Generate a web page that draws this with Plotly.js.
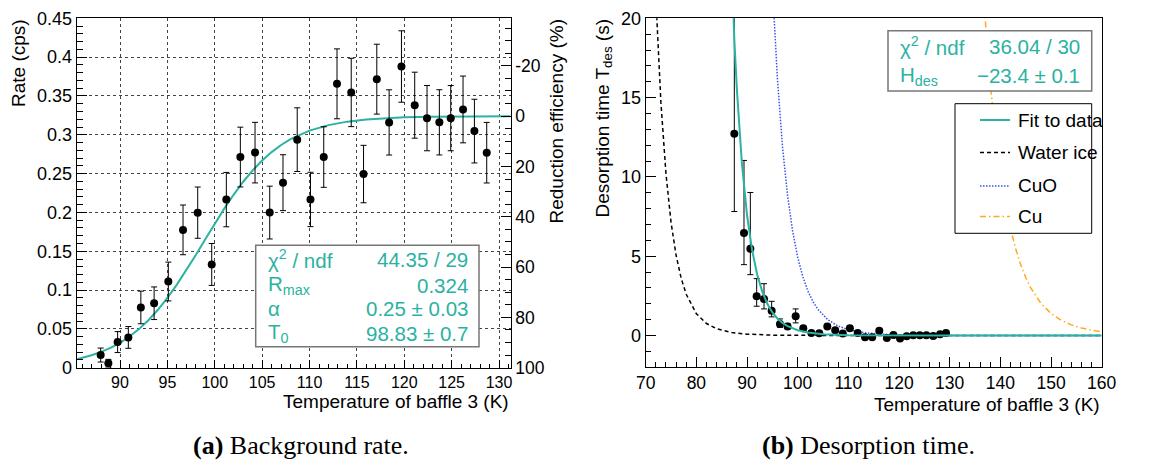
<!DOCTYPE html>
<html>
<head>
<meta charset="utf-8">
<script src="https://cdn.plot.ly/plotly-3.0.1.min.js"></script>
<style>html,body{margin:0;padding:0;background:#fff;}#chart{width:1149px;height:461px;}</style>
</head>
<body>
<div id="chart"></div>
<script>
// ---------- (a) Background rate ----------
const rateT = [87.96, 88.77, 89.75, 90.88, 92.2, 93.6, 95.1, 96.65, 98.2, 99.68, 101.22, 102.7, 104.25, 105.8, 107.2, 108.7, 110.1, 111.5, 112.9, 114.4, 115.7, 117.1, 118.4, 119.7, 121.1, 122.4, 123.7, 124.9, 126.2, 127.4, 128.7];
const rateVal = [0.0163, 0.0057, 0.033, 0.039, 0.0776, 0.083, 0.111, 0.1775, 0.1997, 0.133, 0.2165, 0.2713, 0.277, 0.1998, 0.2383, 0.2937, 0.2167, 0.2713, 0.3656, 0.3545, 0.2494, 0.3716, 0.3159, 0.3879, 0.3381, 0.3214, 0.316, 0.3214, 0.3326, 0.3047, 0.2769];
const rateErr = [0.009, 0.005, 0.0135, 0.014, 0.021, 0.021, 0.025, 0.032, 0.033, 0.027, 0.035, 0.0385, 0.039, 0.034, 0.036, 0.041, 0.035, 0.039, 0.045, 0.044, 0.037, 0.045, 0.042, 0.046, 0.0425, 0.042, 0.042, 0.042, 0.043, 0.041, 0.039];
const tempErr = 0.7;
const rateFitT = [85.43, 87, 88, 89, 90, 91, 92, 93, 94, 95, 96, 97, 98, 99, 100, 101, 102, 103, 104, 105, 106, 107, 108, 110, 112, 114, 116, 118, 120, 123, 126, 129, 131.23];
const rateFitVal = [0.011, 0.016, 0.0203, 0.0256, 0.0321, 0.0401, 0.0497, 0.0612, 0.0746, 0.0899, 0.107, 0.1256, 0.1452, 0.1654, 0.1855, 0.2049, 0.223, 0.2395, 0.2542, 0.2669, 0.2777, 0.2868, 0.2943, 0.3053, 0.3124, 0.3169, 0.3196, 0.3213, 0.3224, 0.3232, 0.3236, 0.3238, 0.3239];
const effTicks = [-20, 0, 20, 40, 60, 80, 100];
const effTickText = ["-20", "0", "20", "40", "60", "80", "100"];
const statA = [["χ<sup>2</sup> / ndf", "44.35 / 29"], ["R<sub>max</sub>", "0.324"], ["α", "0.25 ± 0.03"], ["T<sub>0</sub>", "98.83 ± 0.7"]];

// ---------- (b) Desorption time ----------
const desT = [87.49, 89.4, 90.65, 91.9, 93.35, 94.86, 96.5, 98.0, 99.6, 101.1, 102.7, 104.26, 105.84, 107.4, 108.9, 110.3, 111.84, 113.28, 114.7, 116.1, 117.6, 118.9, 120.2, 121.5, 122.8, 124.1, 125.4, 126.76, 128.1, 129.27];
const desVal = [12.72, 6.47, 5.48, 2.48, 2.31, 1.57, 0.73, 0.57, 1.22, 0.46, 0.17, 0.15, 0.57, 0.33, 0.13, 0.46, 0.17, -0.10, -0.10, 0.30, -0.15, 0.04, -0.19, -0.04, 0.02, 0.02, 0.02, -0.02, 0.08, 0.17];
const desErrUp = [9.0, 4.57, 3.54, 1.11, 0.96, 0.59, 0.32, 0.2, 0.46, 0.15, 0.1, 0.1, 0.15, 0.12, 0.1, 0.15, 0.1, 0.08, 0.08, 0.1, 0.08, 0.06, 0.06, 0.05, 0.05, 0.05, 0.05, 0.05, 0.05, 0.05];
const desErrDown = [4.9, 2.0, 1.64, 0.63, 0.63, 0.39, 0.21, 0.15, 0.42, 0.12, 0.08, 0.08, 0.12, 0.1, 0.08, 0.12, 0.08, 0.07, 0.07, 0.08, 0.07, 0.05, 0.05, 0.05, 0.05, 0.05, 0.05, 0.05, 0.05, 0.05];
const fitT = [86, 87, 87.5, 88, 89, 90, 91, 92, 93, 94, 95, 96, 97, 98, 100, 102, 105, 110, 115, 120, 130, 140, 160];
const fitVal = [32.5, 22.3, 18.6, 15.5, 10.8, 7.6, 5.39, 3.85, 2.77, 2.0, 1.46, 1.08, 0.795, 0.592, 0.333, 0.192, 0.087, 0.026, 0.0085, 0.003, 0.0005, 0.0001, 0];
const iceT = [70, 71, 72, 73, 74, 75, 76, 77, 78, 80, 82, 84, 87, 90, 95, 100, 110, 130, 160];
const iceVal = [46.6, 31.4, 21.3, 14.7, 10.2, 7.14, 5.06, 3.61, 2.6, 1.38, 0.76, 0.43, 0.19, 0.09, 0.028, 0.01, 0.0027, 0.0002, 0];
const cuoT = [95, 96, 97, 98, 99, 100, 101, 102, 103, 104, 106, 108, 110, 113, 116, 120, 130, 160];
const cuoVal = [22.1, 16.2, 11.9, 8.83, 6.58, 4.94, 3.72, 2.82, 2.15, 1.65, 0.985, 0.597, 0.37, 0.186, 0.097, 0.043, 0.007, 0];
const cuT = [136, 137, 138, 139, 140, 141, 142, 143, 144, 145, 146, 148, 150, 152, 154, 156, 158, 160];
const cuVal = [24.9, 20, 15.9, 12.8, 10.3, 8.32, 6.75, 5.49, 4.48, 3.66, 3.0, 2.03, 1.395, 0.965, 0.674, 0.475, 0.338, 0.242];
const statB = [["χ<sup>2</sup> / ndf", "36.04 / 30"], ["H<sub>des</sub>", "−23.4 ± 0.1"]];
const legendNames = ["Fit to data", "Water ice", "CuO", "Cu"];

// ---------- styling ----------
const W = 1149, H = 461;
const TEAL = "#2bb2a2";
const FONT = "Liberation Sans, Arial, sans-serif";
const px = v => v / W;
const py = v => 1 - v / H;
const styles = [
  {color: TEAL, width: 2, dash: "solid"},
  {color: "#000000", width: 1.5, dash: "4px,3px"},
  {color: "#3355ee", width: 1.5, dash: "1.5px,1.5px"},
  {color: "#ffaa22", width: 1.5, dash: "6px,3px,1.5px,3px"}
];
const tf = s => ({family: FONT, size: s, color: "#000"});

const traces = [];
// panel a
traces.push({x: rateFitT, y: rateFitVal, xaxis: "x", yaxis: "y", mode: "lines", line: {color: TEAL, width: 2}, hoverinfo: "skip", showlegend: false});
traces.push({x: rateT, y: rateVal, xaxis: "x", yaxis: "y", mode: "markers", marker: {color: "#000", size: 8},
  error_y: {type: "data", array: rateErr, color: "#000", thickness: 1, width: 3},
  error_x: {type: "data", value: tempErr, color: "#000", thickness: 1, width: 3}, showlegend: false});
traces.push({x: [rateT[0]], y: [effTicks[1]], xaxis: "x", yaxis: "y2", mode: "markers", marker: {opacity: 0}, hoverinfo: "skip", showlegend: false});
// panel b
traces.push({x: iceT, y: iceVal, xaxis: "x2", yaxis: "y3", mode: "lines", line: styles[1], showlegend: false});
traces.push({x: cuoT, y: cuoVal, xaxis: "x2", yaxis: "y3", mode: "lines", line: styles[2], showlegend: false});
traces.push({x: cuT, y: cuVal, xaxis: "x2", yaxis: "y3", mode: "lines", line: styles[3], showlegend: false});
traces.push({x: desT, y: desVal, xaxis: "x2", yaxis: "y3", mode: "markers", marker: {color: "#000", size: 8},
  error_y: {type: "data", symmetric: false, array: desErrUp, arrayminus: desErrDown, color: "#000", thickness: 1, width: 3},
  error_x: {type: "data", value: tempErr, color: "#000", thickness: 1, width: 3}, showlegend: false});
traces.push({x: fitT, y: fitVal, xaxis: "x2", yaxis: "y3", mode: "lines", line: styles[0], showlegend: false});

const axBase = {showline: true, linecolor: "#000", linewidth: 1, ticks: "inside", ticklen: 10, tickcolor: "#000",
  tickfont: tf(17.5), zeroline: false, fixedrange: true};

const layout = {
  width: W, height: H, margin: {l: 0, r: 0, t: 0, b: 0}, paper_bgcolor: "#fff", plot_bgcolor: "#fff",
  showlegend: false, font: {family: FONT, color: "#000"},
  xaxis: Object.assign({}, axBase, {domain: [px(76.7), px(510.7)], range: [85.43, 131.23], anchor: "y", mirror: true,
    dtick: 5, tick0: 0, showgrid: true, gridcolor: "#444", griddash: "dot", gridwidth: 1, ticklen: 8, tickfont: tf(16),
    minor: {ticks: "inside", ticklen: 4, dtick: 1, tick0: 0, tickcolor: "#000", showgrid: false}}),
  yaxis: Object.assign({}, axBase, {domain: [py(367.7), py(18.3)], range: [0, 0.45], anchor: "x",
    dtick: 0.05, tick0: 0, showgrid: true, gridcolor: "#444", griddash: "dot", gridwidth: 1, tickfont: tf(18),
    minor: {ticks: "inside", ticklen: 6, dtick: 0.01, tick0: 0, tickcolor: "#000", showgrid: false}}),
  yaxis2: Object.assign({}, axBase, {overlaying: "y", side: "right", anchor: "x", range: [100, -38.89],
    tickmode: "array", tickvals: effTicks, ticktext: effTickText, showgrid: false, tickfont: tf(17.5),
    minor: {ticks: "inside", ticklen: 6, dtick: 5, tick0: 0, tickcolor: "#000", showgrid: false}}),
  xaxis2: Object.assign({}, axBase, {domain: [px(645.7), px(1101.7)], range: [70, 160], anchor: "y3", mirror: true,
    dtick: 10, tick0: 0, showgrid: false, tickfont: tf(17.5),
    minor: {ticks: "inside", ticklen: 5, dtick: 2, tick0: 0, tickcolor: "#000", showgrid: false}}),
  yaxis3: Object.assign({}, axBase, {domain: [py(367.3), py(18.3)], range: [-2, 20], anchor: "x2", mirror: true,
    dtick: 5, tick0: 0, showgrid: false, tickfont: tf(18),
    minor: {ticks: "inside", ticklen: 5, dtick: 1, tick0: 0, tickcolor: "#000", showgrid: false}}),
  shapes: [], annotations: []
};

const SF = 20.5;
// stat box a
layout.shapes.push({type: "rect", xref: "paper", yref: "paper", x0: px(255.7), x1: px(479), y0: py(346.7), y1: py(245.3),
  fillcolor: "#fff", line: {color: "#777", width: 1.5}, layer: "above"});
const rowsA = [259.3, 285, 308.5, 333.3];
statA.forEach((r, i) => {
  layout.annotations.push({xref: "paper", yref: "paper", x: px(266), y: py(rowsA[i]), xanchor: "left", yanchor: "middle",
    text: r[0], showarrow: false, font: {family: FONT, size: SF, color: TEAL}});
  layout.annotations.push({xref: "paper", yref: "paper", x: px(470), y: py(rowsA[i]), xanchor: "right", yanchor: "middle",
    text: r[1], showarrow: false, font: {family: FONT, size: SF, color: TEAL}});
});
// stat box b
layout.shapes.push({type: "rect", xref: "paper", yref: "paper", x0: px(888), x1: px(1091.7), y0: py(91), y1: py(30.7),
  fillcolor: "#fff", line: {color: "#777", width: 1.5}, layer: "above"});
const rowsB = [46.5, 76];
statB.forEach((r, i) => {
  layout.annotations.push({xref: "paper", yref: "paper", x: px(898), y: py(rowsB[i]), xanchor: "left", yanchor: "middle",
    text: r[0], showarrow: false, font: {family: FONT, size: SF, color: TEAL}});
  layout.annotations.push({xref: "paper", yref: "paper", x: px(1082), y: py(rowsB[i]), xanchor: "right", yanchor: "middle",
    text: r[1], showarrow: false, font: {family: FONT, size: SF, color: TEAL}});
});
// legend b
layout.shapes.push({type: "rect", xref: "paper", yref: "paper", x0: px(955), x1: px(1091.7), y0: py(233.3), y1: py(103.7),
  fillcolor: "#fff", line: {color: "#000", width: 1}, layer: "above"});
const rowsL = [120, 152.5, 186, 216.5];
legendNames.forEach((n, i) => {
  layout.shapes.push({type: "line", xref: "paper", yref: "paper", x0: px(980), x1: px(1010), y0: py(rowsL[i]), y1: py(rowsL[i]),
    line: styles[i], layer: "above"});
  layout.annotations.push({xref: "paper", yref: "paper", x: px(1016), y: py(rowsL[i]), xanchor: "left", yanchor: "middle",
    text: n, showarrow: false, font: tf(19)});
});

// axis titles
const tfont = tf(19);
layout.annotations.push({xref: "paper", yref: "paper", x: px(18), y: py(17), xanchor: "center", yanchor: "top", textangle: -90,
  text: "Rate (cps)", showarrow: false, font: tfont});
layout.annotations.push({xref: "paper", yref: "paper", x: px(556), y: py(17), xanchor: "center", yanchor: "top", textangle: -90,
  text: "Reduction efficiency (%)", showarrow: false, font: tfont});
layout.annotations.push({xref: "paper", yref: "paper", x: px(603), y: py(17), xanchor: "center", yanchor: "top", textangle: -90,
  text: "Desorption time T<sub>des</sub> (s)", showarrow: false, font: tfont});
layout.annotations.push({xref: "paper", yref: "paper", x: px(511), y: py(401), xanchor: "right", yanchor: "middle",
  text: "Temperature of baffle 3 (K)", showarrow: false, font: tfont});
layout.annotations.push({xref: "paper", yref: "paper", x: px(1102), y: py(404), xanchor: "right", yanchor: "middle",
  text: "Temperature of baffle 3 (K)", showarrow: false, font: tfont});
// captions
const cfont = {family: "Liberation Serif, DejaVu Serif, serif", size: 26, color: "#000"};
layout.annotations.push({xref: "paper", yref: "paper", x: px(301), y: py(445), xanchor: "center", yanchor: "middle",
  text: "<b>(a)</b> Background rate.", showarrow: false, font: cfont});
layout.annotations.push({xref: "paper", yref: "paper", x: px(868), y: py(445), xanchor: "center", yanchor: "middle",
  text: "<b>(b)</b> Desorption time.", showarrow: false, font: cfont});

Plotly.newPlot("chart", traces, layout, {displayModeBar: false, staticPlot: true});
</script>
</body>
</html>
